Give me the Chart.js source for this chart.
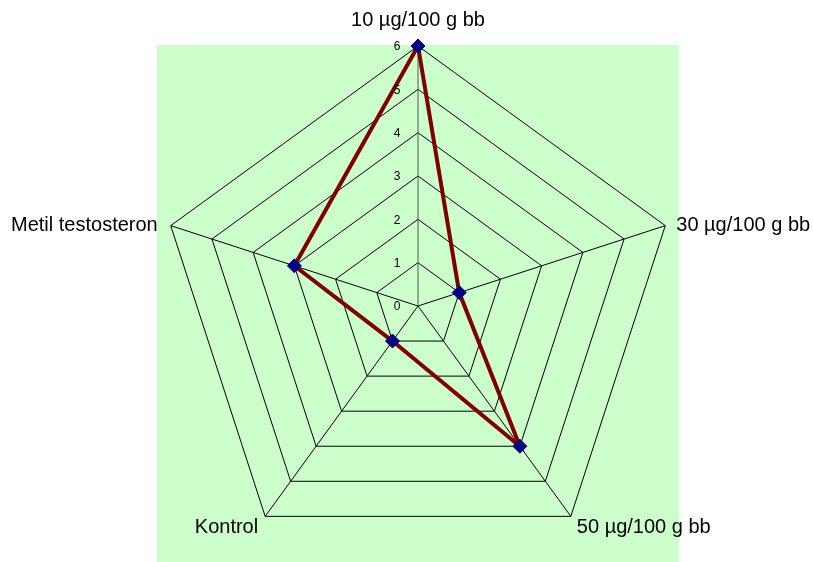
<!DOCTYPE html>
<html>
<head>
<meta charset="utf-8">
<script src="https://cdn.jsdelivr.net/npm/chart.js@4/dist/chart.umd.min.js"></script>
<style>
  html, body { margin: 0; padding: 0; background: #ffffff; }
  #wrap { width: 813px; height: 562px; overflow: hidden; position: relative; }
  canvas { display: block; }
</style>
</head>
<body>
<div id="wrap"><canvas id="c" width="813" height="580"></canvas></div>
<script>
// Treatment groups (radar axes, clockwise from the top)
const categories = ['10 µg/100 g bb', '30 µg/100 g bb', '50 µg/100 g bb', 'Kontrol', 'Metil testosteron'];
// Measured value for each group
const values = [6, 1, 4, 1, 3];
// Radial scale ticks
const tickValues = [0, 1, 2, 3, 4, 5, 6];

const FONT = '"Liberation Sans", Arial, sans-serif';

// Light green plot area behind the web
const plotBackground = {
  id: 'plotBackground',
  beforeDraw(chart) {
    const s = chart.scales.r;
    const ctx = chart.ctx;
    const r = s.drawingArea;
    ctx.save();
    ctx.fillStyle = '#CCFFCC';
    ctx.fillRect(s.xCenter - r - 1, s.yCenter - r - 1, 2 * r + 2, chart.height);
    ctx.restore();
  }
};

// Value labels to the left of the vertical axis, and axis category labels
const radarText = {
  id: 'radarText',
  afterDatasetsDraw(chart) {
    const s = chart.scales.r;
    const ctx = chart.ctx;
    ctx.save();
    ctx.fillStyle = '#000000';
    ctx.font = '12px ' + FONT;
    ctx.textAlign = 'center';
    ctx.textBaseline = 'middle';
    tickValues.forEach(v => {
      const p = s.getPointPositionForValue(0, v);
      ctx.fillText(String(v), p.x - 21, p.y + 1);
    });

    ctx.font = '20px ' + FONT;
    categories.forEach((label, i) => {
      const p = s.getPointPositionForValue(i, s.max);
      const a = s.getIndexAngle(i) - Math.PI / 2;
      const cx = Math.cos(a), sy = Math.sin(a);
      let x = p.x, y = p.y;
      if (Math.abs(cx) < 0.1) {
        ctx.textAlign = 'center';
        ctx.textBaseline = 'alphabetic';
        y = p.y - 20;
      } else if (sy < 0) {
        ctx.textAlign = cx > 0 ? 'left' : 'right';
        ctx.textBaseline = 'middle';
        x = p.x + (cx > 0 ? 11 : -13);
      } else {
        ctx.textAlign = cx > 0 ? 'left' : 'right';
        ctx.textBaseline = 'top';
        x = p.x + (cx > 0 ? 6 : -7);
        y = p.y + 1;
      }
      ctx.fillText(label, x, y);
    });
    ctx.restore();
  }
};

new Chart(document.getElementById('c'), {
  type: 'radar',
  data: {
    labels: categories,
    datasets: [{
      data: values,
      borderColor: '#800000',
      borderWidth: 4,
      fill: false,
      pointStyle: 'rectRot',
      pointRadius: 7,
      pointBackgroundColor: '#000080',
      pointBorderColor: '#000080',
      pointBorderWidth: 1,
      tension: 0
    }]
  },
  options: {
    responsive: false,
    animation: false,
    events: [],
    layout: { padding: { left: 158, right: 135, top: 46, bottom: 14 } },
    plugins: { legend: { display: false }, tooltip: { enabled: false } },
    scales: {
      r: {
        min: 0,
        max: 6,
        startAngle: 0,
        ticks: { display: false, stepSize: 1 },
        pointLabels: { display: false },
        grid: { color: '#000000', lineWidth: 1 },
        angleLines: {
          color: ctx => ctx.index === 0 ? '#555555' : '#000000',
          lineWidth: 1
        }
      }
    }
  },
  plugins: [plotBackground, radarText]
});
</script>
</body>
</html>
